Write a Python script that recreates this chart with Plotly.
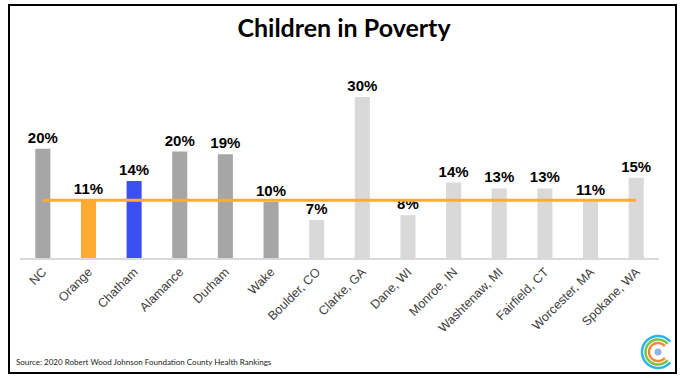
import math
import plotly.graph_objects as go

# データ
counties = ["NC", "Orange", "Chatham", "Alamance", "Durham", "Wake", "Boulder, CO",
            "Clarke, GA", "Dane, WI", "Monroe, IN", "Washtenaw, MI", "Fairfield, CT",
            "Worcester, MA", "Spokane, WA"]
poverty = [20.4, 10.8, 14.4, 19.9, 19.4, 10.5, 7.1, 30.1, 8.0, 14.1, 13.0, 13.0, 10.7, 15.0]
labels = ["20%", "11%", "14%", "20%", "19%", "10%", "7%", "30%", "8%", "14%", "13%", "13%",
          "11%", "15%"]
orange_ref = 10.8

# カラー
NC_GRAY = "#a6a6a6"
PEER_GRAY = "#d9d9d9"
ORANGE = "#ffab33"
BLUE = "#3a50f0"
bar_colors = [NC_GRAY, ORANGE, BLUE, NC_GRAY, NC_GRAY, NC_GRAY] + [PEER_GRAY] * 8

W, H = 686, 378
L, R, T, B = 20, 27, 80, 120
PW, PH = W - L - R, H - T - B


def px(x):
    return (x - L) / PW


def py(y):
    return (H - B - y) / PH


fig = go.Figure()

fig.add_trace(go.Bar(
    x=counties,
    y=poverty,
    marker=dict(color=bar_colors, line_width=0),
    text=labels,
    textposition="outside",
    constraintext="none",
    textfont=dict(family="Liberation Sans, Arial", size=15, color="black", weight="bold"),
    cliponaxis=False,
    hoverinfo="skip",
))

# オレンジの基準線
fig.add_trace(go.Scatter(
    x=counties,
    y=[orange_ref] * len(counties),
    mode="lines",
    line=dict(color=ORANGE, width=3),
    hoverinfo="skip",
))

shapes = [dict(
    type="rect", xref="paper", yref="paper",
    x0=px(9), x1=px(676), y0=py(373), y1=py(5),
    line=dict(color="black", width=2), fillcolor="rgba(0,0,0,0)",
)]

# ロゴ（同心円の弧）
cx, cy = 658, 352
for r, col in [(16, "#2ab4e6"), (12.5, "#7cc243"), (9, "#f48a3c")]:
    pts = []
    for k in range(41):
        a = math.radians(40 + 280 * k / 40)
        pts.append((px(cx + r * math.cos(a)), py(cy - r * math.sin(a))))
    path = "M " + " L ".join(f"{x:.5f},{y:.5f}" for x, y in pts)
    shapes.append(dict(type="path", xref="paper", yref="paper", path=path,
                       line=dict(color=col, width=2.5)))
shapes.append(dict(type="circle", xref="paper", yref="paper",
                   x0=px(cx - 3.5), x1=px(cx + 3.5), y0=py(cy + 3.5), y1=py(cy - 3.5),
                   fillcolor="#8fb4e8", line_width=0))

fig.update_layout(
    width=W, height=H,
    margin=dict(l=L, r=R, t=T, b=B),
    paper_bgcolor="white",
    plot_bgcolor="white",
    showlegend=False,
    bargap=0.67,
    title=dict(text="<b>Children in Poverty</b>", x=344 / W, xanchor="center",
               y=1 - 28 / H, yanchor="middle",
               font=dict(family="Lato", size=25, color="black")),
    xaxis=dict(
        showline=True, linecolor="#d9d9d9", linewidth=1.5,
        showgrid=False, ticks="", tickangle=-45, automargin=False,
        tickfont=dict(family="Liberation Sans, Arial", size=12.5, color="#404040"),
        fixedrange=True,
    ),
    yaxis=dict(range=[0, PH / 5.35], visible=False, fixedrange=True, automargin=False),
    shapes=shapes,
    annotations=[dict(
        text="Source: 2020 Robert Wood Johnson Foundation County Health Rankings",
        xref="paper", yref="paper", x=px(14), y=py(362),
        xanchor="left", yanchor="middle", showarrow=False,
        font=dict(family="Lato", size=8, color="#222222"),
    )],
)

# ページ余白を消して図を左上に合わせる
fig.write_html("out.html", config={"displayModeBar": False},
               post_script="document.body.style.margin='0';")
